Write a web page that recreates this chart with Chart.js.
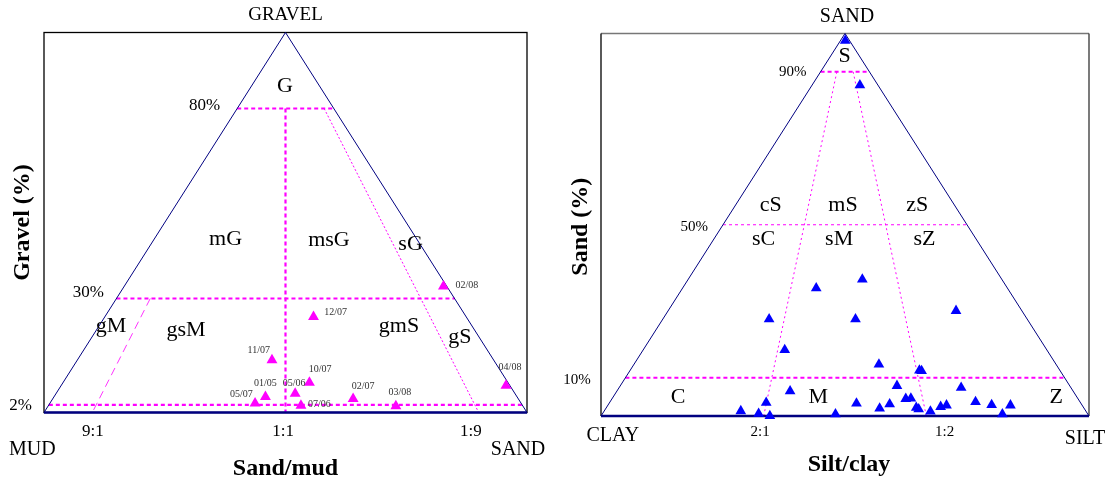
<!DOCTYPE html>
<html>
<head>
<meta charset="utf-8">
<script src="https://cdn.jsdelivr.net/npm/chart.js@4.4.0/dist/chart.umd.min.js"></script>
<style>
    html, body { margin: 0; padding: 0; background: #fff; }
    #wrap { position: relative; width: 1115px; height: 484px; overflow: hidden; }
    canvas { position: absolute; top: 0; }
    #chart-gravel { left: 0; }
    #chart-sand { left: 560px; }
</style>
</head>
<body>
<div id="wrap">
    <canvas id="chart-gravel" width="560" height="484"></canvas>
    <canvas id="chart-sand" width="555" height="484"></canvas>
</div>
<script>
// ---- Left triangle: gravel / sand / mud (samples with gravel) ----
const gravelSamples = ['02/08', '12/07', '11/07', '10/07', '01/05', '05/07', '05/06', '07/06', '02/07', '03/08', '04/08'];
const gravelPct = [33.2, 25.2, 13.8, 7.9, 4.1, 2.4, 5.0, 1.8, 3.6, 1.7, 7.1];
const sandPctGravel = [66.1, 43.2, 40.3, 51.0, 43.8, 42.5, 49.5, 52.3, 62.2, 72.0, 92.1];
const gravelLimits = [80, 30, 2];
const sandMudRatios = [0.1, 0.5, 0.9];        // sand / (sand + mud)
const sandMudTicks = ['9:1', '1:1', '1:9'];

// ---- Right triangle: sand / silt / clay ----
const sandPct = [98.1, 86.5, 33.4, 35.7, 25.3, 25.3, 27.5, 17.3, 13.5, 11.9, 11.8, 6.5, 7.9, 7.4, 3.5, 1.3, 0.6,
    0.0, 0.5, 3.3, 2.0, 3.1, 4.5, 4.6, 2.2, 1.8, 1.2, 2.4, 2.8, 3.7, 2.9, 0.5, 2.8];
const siltPct = [1.0, 9.8, 27.4, 35.7, 21.8, 39.5, 59.0, 29.0, 50.2, 59.3, 59.8, 35.5, 56.7, 70.1, 32.1, 28.0, 32.0,
    34.6, 47.8, 50.7, 56.1, 57.6, 60.2, 61.2, 63.5, 64.2, 66.9, 68.4, 69.4, 74.9, 78.6, 82.0, 82.5];
const sandLimits = [90, 50, 10];
const siltClayRatios = [1 / 3, 2 / 3];        // silt / (silt + clay)
const siltClayTicks = ['2:1', '1:2'];

// class names, placed in plot coords (x = across base %, y = apex component %)
const gravelClasses = [['G', 49.9, 85.8], ['mG', 37.6, 45.5], ['msG', 59.0, 45.3], ['sG', 75.9, 44.4],
    ['gM', 13.9, 22.8], ['gsM', 29.4, 21.7], ['gmS', 73.5, 22.6], ['gS', 86.1, 19.9]];
const sandClasses = [['S', 49.9, 94.0], ['cS', 34.8, 55.2], ['mS', 49.6, 55.2], ['zS', 64.8, 55.2],
    ['sC', 33.3, 46.2], ['sM', 48.8, 46.2], ['sZ', 66.3, 46.2], ['C', 15.8, 4.9], ['M', 44.5, 4.9], ['Z', 93.3, 4.9]];

// label layout (pixel offsets from the marker)
const sampleLabelPos = [[12, -0.5, 'left'], [10.7, -4, 'left'], [-2, -10, 'right'], [-0.7, -13.5, 'left'],
    [0, -14, 'center'], [-2.3, -9.5, 'right'], [-1, -10.5, 'center'], [7, -1.5, 'left'], [-1.3, -12, 'left'],
    [4, -14, 'center'], [4, -18.5, 'center']];

const SERIF = "'Liberation Serif', 'Times New Roman', serif";
const MAGENTA = '#ff00ff';
const NAVY = '#000080';

function drawText(ctx, str, x, y, size, opts = {}) {
    ctx.save();
    ctx.font = (opts.bold ? 'bold ' : '') + size + 'px ' + SERIF;
    ctx.fillStyle = opts.color || '#000';
    ctx.textAlign = opts.align || 'center';
    ctx.textBaseline = 'middle';
    ctx.translate(x, y);
    if (opts.rotate) ctx.rotate(opts.rotate);
    ctx.fillText(str, 0, 0);
    ctx.restore();
}

// x position across the base for apex share `top` and base ratio `r`
function across(top, r) {
    return (100 - top) * r + top / 2;
}

function line(points, color, width, dash) {
    return {
        data: points,
        showLine: true,
        borderColor: color,
        borderWidth: width,
        borderDash: dash || [],
        pointRadius: 0,
        fill: false,
        clip: false,
        order: 2
    };
}

function outline() {
    return [
        line([{ x: 0, y: 0 }, { x: 50, y: 100 }, { x: 100, y: 0 }], NAVY, 1),
        line([{ x: 0, y: 0 }, { x: 100, y: 0 }], NAVY, 2.5)
    ];
}

function baseOptions(padding) {
    return {
        responsive: false,
        animation: false,
        events: [],
        layout: { padding: padding },
        plugins: { legend: { display: false }, tooltip: { enabled: false } },
        scales: {
            x: { type: 'linear', min: 0, max: 100, display: false },
            y: { type: 'linear', min: 0, max: 100, display: false }
        }
    };
}

// ==========================================
// 1. Gravel - Sand - Mud
// ==========================================
function initGravelChart() {
    const datasets = [{
        data: gravelPct.map((g, i) => ({ x: sandPctGravel[i] + g / 2, y: g })),
        pointStyle: 'triangle',
        pointRadius: 6.3,
        backgroundColor: MAGENTA,
        borderColor: MAGENTA,
        borderWidth: 0,
        showLine: false,
        clip: false,
        order: 0
    }];

    datasets.push(...outline());
    gravelLimits.forEach(g => {
        datasets.push(line([{ x: g / 2, y: g }, { x: 100 - g / 2, y: g }], MAGENTA, 2.2, [4, 3]));
    });
    // 9:1 from 30 %, 1:1 and 1:9 from 80 %
    const [r91, r11, r19] = sandMudRatios;
    datasets.push(line([{ x: across(gravelLimits[1], r91), y: gravelLimits[1] }, { x: 100 * r91, y: 0 }], '#ff33ff', 1, [8, 5]));
    datasets.push(line([{ x: across(gravelLimits[0], r11), y: gravelLimits[0] }, { x: 100 * r11, y: 0 }], MAGENTA, 2.2, [4, 3]));
    datasets.push(line([{ x: across(gravelLimits[0], r19), y: gravelLimits[0] }, { x: 100 * r19, y: 0 }], MAGENTA, 1, [2, 2]));

    const texts = {
        id: 'gravelTexts',
        beforeDatasetsDraw(chart) {
            const { ctx, chartArea: a } = chart;
            ctx.save();
            ctx.strokeStyle = '#000';
            ctx.lineWidth = 1.3;
            ctx.strokeRect(a.left, a.top, a.right - a.left, a.bottom - a.top);
            ctx.restore();
        },
        afterDatasetsDraw(chart) {
            const { ctx, chartArea: a, scales: { x, y } } = chart;
            const apexX = x.getPixelForValue(50);

            drawText(ctx, 'GRAVEL', apexX, a.top - 17, 19);
            drawText(ctx, 'MUD', 9, 450, 20, { align: 'left' });
            drawText(ctx, 'SAND', a.right - 9, 450, 20);
            drawText(ctx, 'Sand/mud', apexX, 469, 24, { bold: true });
            drawText(ctx, 'Gravel (%)', 23, 222.5, 24, { bold: true, rotate: -Math.PI / 2 });

            const tickAt = [10.1, 49.5, 88.4];
            sandMudTicks.forEach((t, i) => drawText(ctx, t, x.getPixelForValue(tickAt[i]), 431.5, 17));

            const gap = [17, 12.5, 17];
            const dy = [-2.5, -5.5, 1];
            gravelLimits.forEach((g, i) => {
                drawText(ctx, g + '%', x.getPixelForValue(g / 2) - gap[i], y.getPixelForValue(g) + dy[i], 17, { align: 'right' });
            });

            gravelClasses.forEach(([t, cx, cy]) => {
                drawText(ctx, t, x.getPixelForValue(cx), y.getPixelForValue(cy), 22);
            });

            const pts = chart.getDatasetMeta(0).data;
            gravelSamples.forEach((s, i) => {
                const [dx, ddy, align] = sampleLabelPos[i];
                drawText(ctx, s, pts[i].x + dx, pts[i].y + ddy, 10, { align: align, color: '#333' });
            });
        }
    };

    new Chart(document.getElementById('chart-gravel'), {
        type: 'scatter',
        data: { datasets: datasets },
        options: baseOptions({ left: 44, top: 32.5, right: 33, bottom: 71.5 }),
        plugins: [texts]
    });
}

// ==========================================
// 2. Sand - Silt - Clay
// ==========================================
function initSandChart() {
    const datasets = [{
        data: sandPct.map((s, i) => ({ x: siltPct[i] + s / 2, y: s })),
        pointStyle: 'triangle',
        pointRadius: 6.2,
        backgroundColor: '#0000ff',
        borderColor: '#0000ff',
        borderWidth: 0,
        showLine: false,
        clip: false,
        order: 0
    }];

    datasets.push(...outline());
    sandLimits.forEach((s, i) => {
        const thin = i === 1;
        datasets.push(line([{ x: s / 2, y: s }, { x: 100 - s / 2, y: s }], MAGENTA, thin ? 1 : 2.2, thin ? [3, 3] : [4, 3]));
    });
    siltClayRatios.forEach(r => {
        datasets.push(line([{ x: across(sandLimits[0], r), y: sandLimits[0] }, { x: 100 * r, y: 0 }], MAGENTA, 1, [2, 3]));
    });

    const texts = {
        id: 'sandTexts',
        beforeDatasetsDraw(chart) {
            const { ctx, chartArea: a } = chart;
            ctx.save();
            ctx.lineWidth = 1.3;
            ctx.strokeStyle = '#777';
            ctx.beginPath();
            ctx.moveTo(a.left, a.top);
            ctx.lineTo(a.right, a.top);
            ctx.stroke();
            ctx.strokeStyle = '#333';
            ctx.beginPath();
            ctx.moveTo(a.right, a.top);
            ctx.lineTo(a.right, a.bottom);
            ctx.stroke();
            ctx.strokeStyle = '#000';
            ctx.beginPath();
            ctx.moveTo(a.left, a.top);
            ctx.lineTo(a.left, a.bottom);
            ctx.stroke();
            ctx.restore();
        },
        afterDatasetsDraw(chart) {
            const { ctx, chartArea: a, scales: { x, y } } = chart;
            const apexX = x.getPixelForValue(50);

            drawText(ctx, 'SAND', apexX + 2, a.top - 17, 20);
            drawText(ctx, 'CLAY', 52.8, 436, 20);
            drawText(ctx, 'SILT', 525, 439, 20);
            drawText(ctx, 'Silt/clay', apexX + 4, 465, 24, { bold: true });
            drawText(ctx, 'Sand (%)', 21, 226.7, 24, { bold: true, rotate: -Math.PI / 2 });

            const tickAt = [32.6, 70.4];
            siltClayTicks.forEach((t, i) => drawText(ctx, t, x.getPixelForValue(tickAt[i]), 432.5, 15));

            const gap = [14, 15, 34.6];
            const dy = [0, 2, 2];
            sandLimits.forEach((s, i) => {
                drawText(ctx, s + '%', x.getPixelForValue(s / 2) - gap[i], y.getPixelForValue(s) + dy[i], 15, { align: 'right' });
            });

            sandClasses.forEach(([t, cx, cy]) => {
                drawText(ctx, t, x.getPixelForValue(cx), y.getPixelForValue(cy), 22);
            });
        }
    };

    new Chart(document.getElementById('chart-sand'), {
        type: 'scatter',
        data: { datasets: datasets },
        options: baseOptions({ left: 41, top: 33.5, right: 26, bottom: 68 }),
        plugins: [texts]
    });
}

initGravelChart();
initSandChart();
</script>
</body>
</html>
